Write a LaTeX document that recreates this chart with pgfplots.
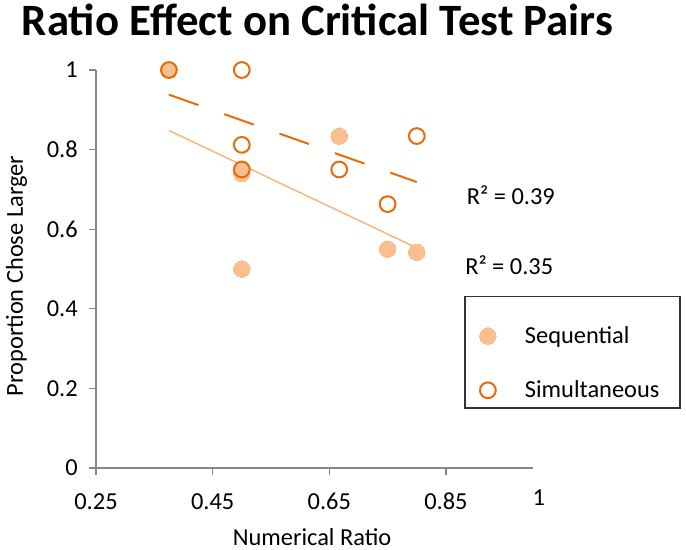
\documentclass[border=0pt]{standalone}
\usepackage{fontspec}
\setmainfont{Carlito}
\usepackage{pgfplots}
\pgfplotsset{compat=1.18}
\definecolor{seqfill}{HTML}{F9BF8F}
\definecolor{seqline}{HTML}{F9B37C}
\definecolor{simline}{HTML}{E46C0A}
\definecolor{axgray}{HTML}{868686}
\newcommand\lbl{\fontsize{18.3pt}{22pt}\selectfont}
\begin{document}
\begin{tikzpicture}
\useasboundingbox (-72pt,-61.5pt) rectangle (442.5pt,351pt);
\begin{axis}[
  scale only axis, width=328.1pt, height=298.5pt,
  xmin=0.25, xmax=1, ymin=0, ymax=1,
  axis lines=left,
  axis line style={-, color=axgray, line width=1pt},
  tick style={color=axgray, line width=1pt},
  tick align=outside, major tick length=5.25pt,
  xtick={0.25,0.45,0.65,0.85},
  ytick={0,0.2,0.4,0.6,0.8,1},
  extra x ticks={1}, extra x tick labels={1},
  extra x tick style={major tick length=0pt, xticklabel style={xshift=4pt, yshift=-3pt}},
  /pgf/number format/assume math mode=true,
  xticklabel style={font=\lbl, anchor=north, inner sep=0pt, yshift=-13.5pt,
     /pgf/number format/fixed, /pgf/number format/precision=2},
  yticklabel style={font=\lbl, anchor=east, inner sep=0pt, xshift=-8.25pt,
     /pgf/number format/fixed},
  xlabel={Numerical Ratio},
  ylabel={Proportion Chose Larger},
  xlabel style={font=\lbl, at={(axis description cs:0.4939,-0.1935)}, anchor=base, inner sep=0pt},
  ylabel style={font=\lbl, at={(axis description cs:-0.1669,0.4824)}, anchor=base, inner sep=0pt},
  clip=false,
  legend style={draw=none, fill=none, at={(axis description cs:0.8763,0.3658)}, anchor=north west,
    font=\lbl, inner sep=0pt, row sep=20.7pt, column sep=0pt,
    nodes={inner sep=0pt, minimum height=20pt}},
  legend cell align=left,
  /tikz/every odd column/.append style={column sep=21.6pt},
]
\addplot[only marks, mark=*, mark size=6.2pt, mark options={draw=seqfill, fill=seqfill, line width=0pt}]
  coordinates {(0.375,1.000) (0.5,0.751) (0.5,0.740) (0.667,0.834) (0.5,0.500) (0.75,0.550) (0.8,0.542)};
\addlegendentry{Sequential}
\addplot[only marks, mark=o, mark size=5.9pt, mark options={draw=simline, line width=1.5pt}]
  coordinates {(0.375,1.000) (0.5,1.000) (0.5,0.812) (0.5,0.750) (0.667,0.750) (0.75,0.663) (0.8,0.834)};
\addlegendentry{Simultaneous}
\addplot[forget plot, seqline, line width=1.1pt] coordinates {(0.375,0.848) (0.8,0.553)};
\addplot[forget plot, simline, line width=1.5pt, dash pattern=on 23.5pt off 20.5pt] coordinates {(0.375,0.938) (0.8,0.7185)};
\end{axis}
\node[anchor=base west, inner sep=0pt] at (-55.7pt,324pt) {\fontsize{33.6pt}{38pt}\selectfont\bfseries Ratio Effect on Critical Test Pairs};
\node[anchor=west, inner sep=0pt, font=\lbl] at (278pt,204.75pt) {R² = 0.39};
\node[anchor=west, inner sep=0pt, font=\lbl] at (276.75pt,152.25pt) {R² = 0.35};
\draw[color=black!80, line width=0.8pt] (276.75pt,45pt) rectangle (438pt,128.5pt);
\end{tikzpicture}
\end{document}
